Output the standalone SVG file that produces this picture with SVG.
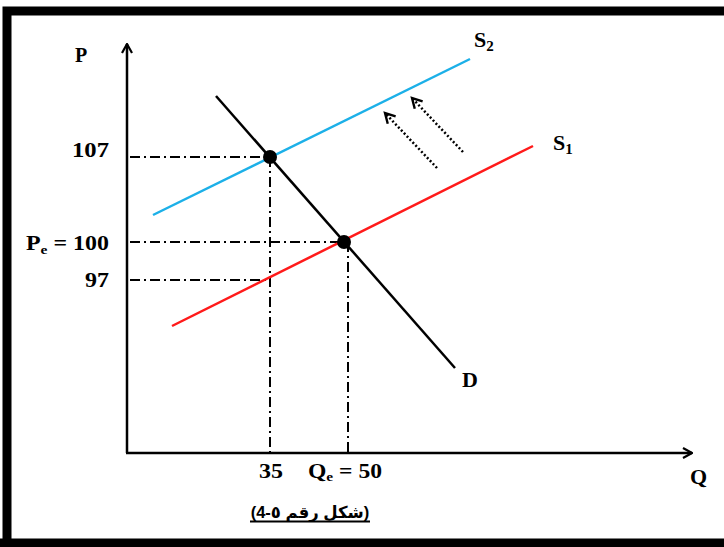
<svg xmlns="http://www.w3.org/2000/svg" width="724" height="547" viewBox="0 0 724 547">
<defs>
<style>
.lbl{font-family:"Liberation Serif","Times New Roman",serif;font-weight:bold;font-size:20px;fill:#000}
.big{font-size:22px}
.sub{font-size:13px}
.sub2{font-size:15px}
.axis{stroke:#000;stroke-width:2.5;fill:none}
.dd{stroke:#000;stroke-width:2;stroke-dasharray:10,4,2,4;fill:none}
.dot{stroke:#000;stroke-width:2.5;stroke-dasharray:2,2.2;fill:none}
.cap{font-family:"Liberation Sans","DejaVu Sans",sans-serif;font-weight:bold;font-size:16.5px;fill:#000}
</style>
<marker id="open" viewBox="0 0 12 12" refX="11" refY="6" markerWidth="12" markerHeight="12" markerUnits="userSpaceOnUse" orient="auto">
<path d="M2,1 L11,6 L2,11" fill="none" stroke="#000" stroke-width="2.2"/>
</marker>
<marker id="dh" viewBox="0 0 12 12" refX="10" refY="6" markerWidth="13" markerHeight="13" markerUnits="userSpaceOnUse" orient="auto">
<path d="M1,1 L10,6 L1,11" fill="none" stroke="#000" stroke-width="2.2"/>
</marker>
</defs>
<rect width="724" height="547" fill="#fff"/>
<path d="M7,547 V11 H730" fill="none" stroke="#000" stroke-width="9"/>
<line x1="0" y1="543" x2="724" y2="543" stroke="#000" stroke-width="9"/>
<g id="connectors">
<line class="axis" x1="127" y1="453" x2="127" y2="44" marker-end="url(#open)"/>
<line class="axis" x1="126" y1="453" x2="692" y2="453" marker-end="url(#open)"/>
<line class="dd" x1="130" y1="157" x2="270" y2="157"/>
<line class="dd" x1="130" y1="242" x2="344" y2="242"/>
<line class="dd" x1="130" y1="280" x2="266" y2="280"/>
<line class="dd" x1="270" y1="157" x2="270" y2="453"/>
<line class="dd" x1="348" y1="242" x2="348" y2="453"/>
<line class="dot" x1="437" y1="168" x2="385" y2="113" marker-end="url(#dh)"/>
<line class="dot" x1="463" y1="152" x2="412" y2="98" marker-end="url(#dh)"/>
</g>
<g id="S2"><line x1="153" y1="215" x2="470" y2="59" stroke="#1CB0E8" stroke-width="2.5"/></g>
<g id="S1"><line x1="172" y1="326" x2="533" y2="146" stroke="#FF1A1A" stroke-width="2.5"/></g>
<g id="D"><line x1="216" y1="96" x2="455" y2="368" stroke="#000" stroke-width="2.5"/></g>
<g id="E2"><circle cx="270" cy="157" r="7" fill="#000"/></g>
<g id="E1"><circle cx="344" cy="242" r="7" fill="#000"/></g>
<g id="labels">
<text class="lbl" x="75" y="62">P</text>
<text class="lbl big" x="690" y="484">Q</text>
<text class="lbl" x="72" y="157" textLength="37" lengthAdjust="spacingAndGlyphs">107</text>
<text class="lbl" x="26" y="250" textLength="83" lengthAdjust="spacingAndGlyphs">P<tspan class="sub" dy="4">e</tspan><tspan dy="-4"> = 100</tspan></text>
<text class="lbl" x="85" y="287" textLength="24" lengthAdjust="spacingAndGlyphs">97</text>
<text class="lbl" x="259" y="478" textLength="24" lengthAdjust="spacingAndGlyphs">35</text>
<text class="lbl" x="308" y="478" textLength="74" lengthAdjust="spacingAndGlyphs">Q<tspan class="sub" dy="3">e</tspan><tspan dy="-3"> = 50</tspan></text>
<text class="lbl big" x="474" y="47">S<tspan class="sub2" dy="4">2</tspan></text>
<text class="lbl big" x="553" y="150">S<tspan class="sub2" dy="4">1</tspan></text>
<text class="lbl big" x="462" y="387">D</text>
</g>
<g id="caption">
<text class="cap" x="310" y="518" text-anchor="middle" direction="rtl" unicode-bidi="embed">(شكل رقم ٥-4)</text>
<line x1="250" y1="521.5" x2="370" y2="521.5" stroke="#000" stroke-width="2"/>
</g>
</svg>
